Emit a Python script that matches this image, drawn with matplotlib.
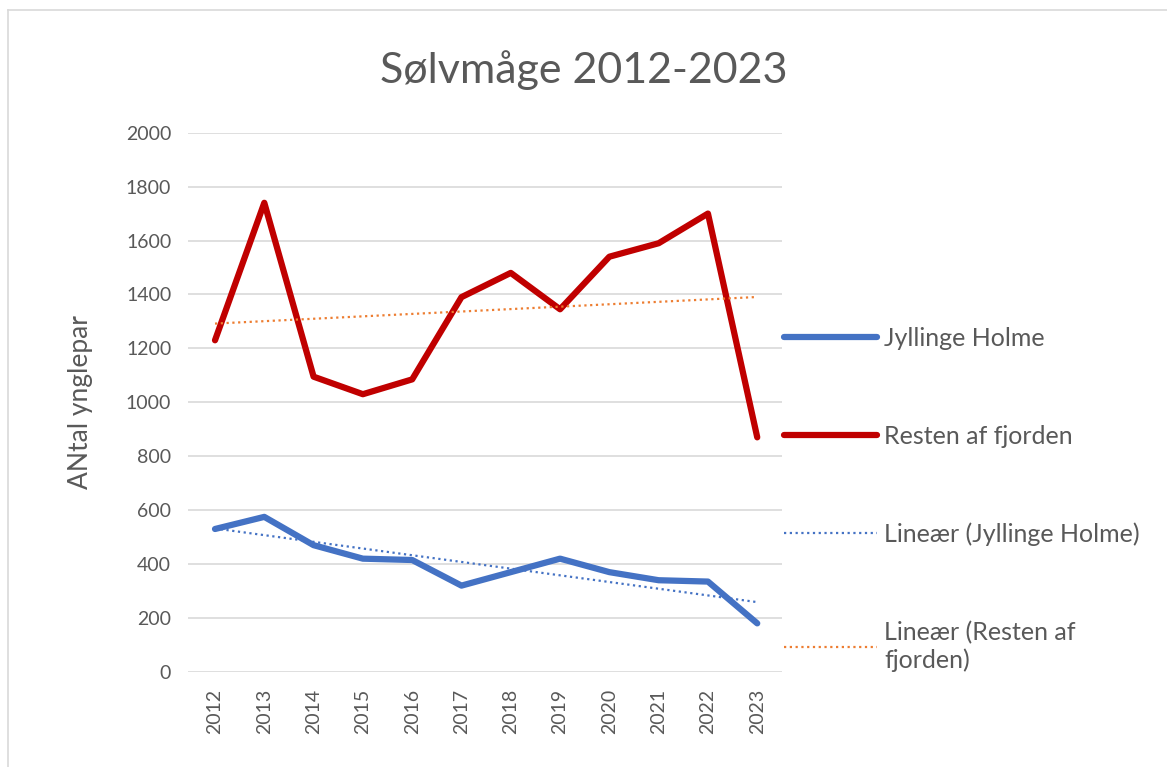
import numpy as np
import matplotlib
matplotlib.use("Agg")
import matplotlib.pyplot as plt
from matplotlib.lines import Line2D

# Data
years = ["2012", "2013", "2014", "2015", "2016", "2017", "2018", "2019", "2020", "2021", "2022", "2023"]
jyllinge = [530, 575, 470, 420, 415, 320, 370, 420, 370, 340, 335, 180]
resten = [1230, 1740, 1095, 1030, 1085, 1390, 1480, 1345, 1540, 1590, 1700, 870]

plt.rcParams['font.family'] = ['Lato', 'DejaVu Sans']
txt = '#595959'

fig = plt.figure(figsize=(11.67, 7.67), dpi=100)
ax = fig.add_axes([0.161, 0.124, 0.509, 0.703])

x = np.arange(len(years))

# Linear trendlines (like Excel's "Lineær")
pj = np.polyfit(x, jyllinge, 1)
pr = np.polyfit(x, resten, 1)

l1, = ax.plot(x, jyllinge, color='#4472C4', lw=4.5, solid_capstyle='round', solid_joinstyle='round', zorder=3)
l2, = ax.plot(x, resten, color='#C00000', lw=4.5, solid_capstyle='round', solid_joinstyle='round', zorder=3)
l3, = ax.plot(x, np.polyval(pj, x), color='#4472C4', lw=1.6, linestyle=(0, (1, 1.6)), zorder=4)
l4, = ax.plot(x, np.polyval(pr, x), color='#ED7D31', lw=1.6, linestyle=(0, (1, 1.6)), zorder=4)

ax.set_xlim(-0.55, 11.5)
ax.set_ylim(0, 2000)
ax.set_yticks(range(0, 2001, 200))
ax.set_xticks(x)
ax.set_xticklabels(years, rotation=90)
ax.tick_params(axis='y', length=0, labelsize=14, colors=txt, pad=12)
ax.tick_params(axis='x', length=0, labelsize=14, colors=txt, pad=12)
ax.grid(axis='y', color='#D9D9D9', lw=1.2)
ax.set_axisbelow(True)
for s in ax.spines.values():
    s.set_visible(False)

ax.set_ylabel('ANtal ynglepar', fontsize=19, color=txt, labelpad=24)
fig.text(0.5, 0.909, 'Sølvmåge 2012-2023', ha='center', va='center', fontsize=31,
         color=txt)

leg = ax.legend([l1, l2, l3, l4],
                ['Jyllinge Holme', 'Resten af fjorden', 'Lineær (Jyllinge Holme)', 'Lineær (Resten af\nfjorden)'],
                loc='center left', bbox_to_anchor=(1.0, 0.32), frameon=False,
                fontsize=18, labelcolor=txt, handlelength=3.7, handletextpad=0.3,
                labelspacing=3.0, borderaxespad=0.0, borderpad=0.1)

# light outer chart frame
fig.add_artist(Line2D([8 / 1167, 8 / 1167], [0, 1 - 10 / 767], color='#D9D9D9', lw=1.2))
fig.add_artist(Line2D([8 / 1167, 1], [1 - 10 / 767, 1 - 10 / 767], color='#D9D9D9', lw=1.2))

fig.savefig('out.png', dpi=100)
